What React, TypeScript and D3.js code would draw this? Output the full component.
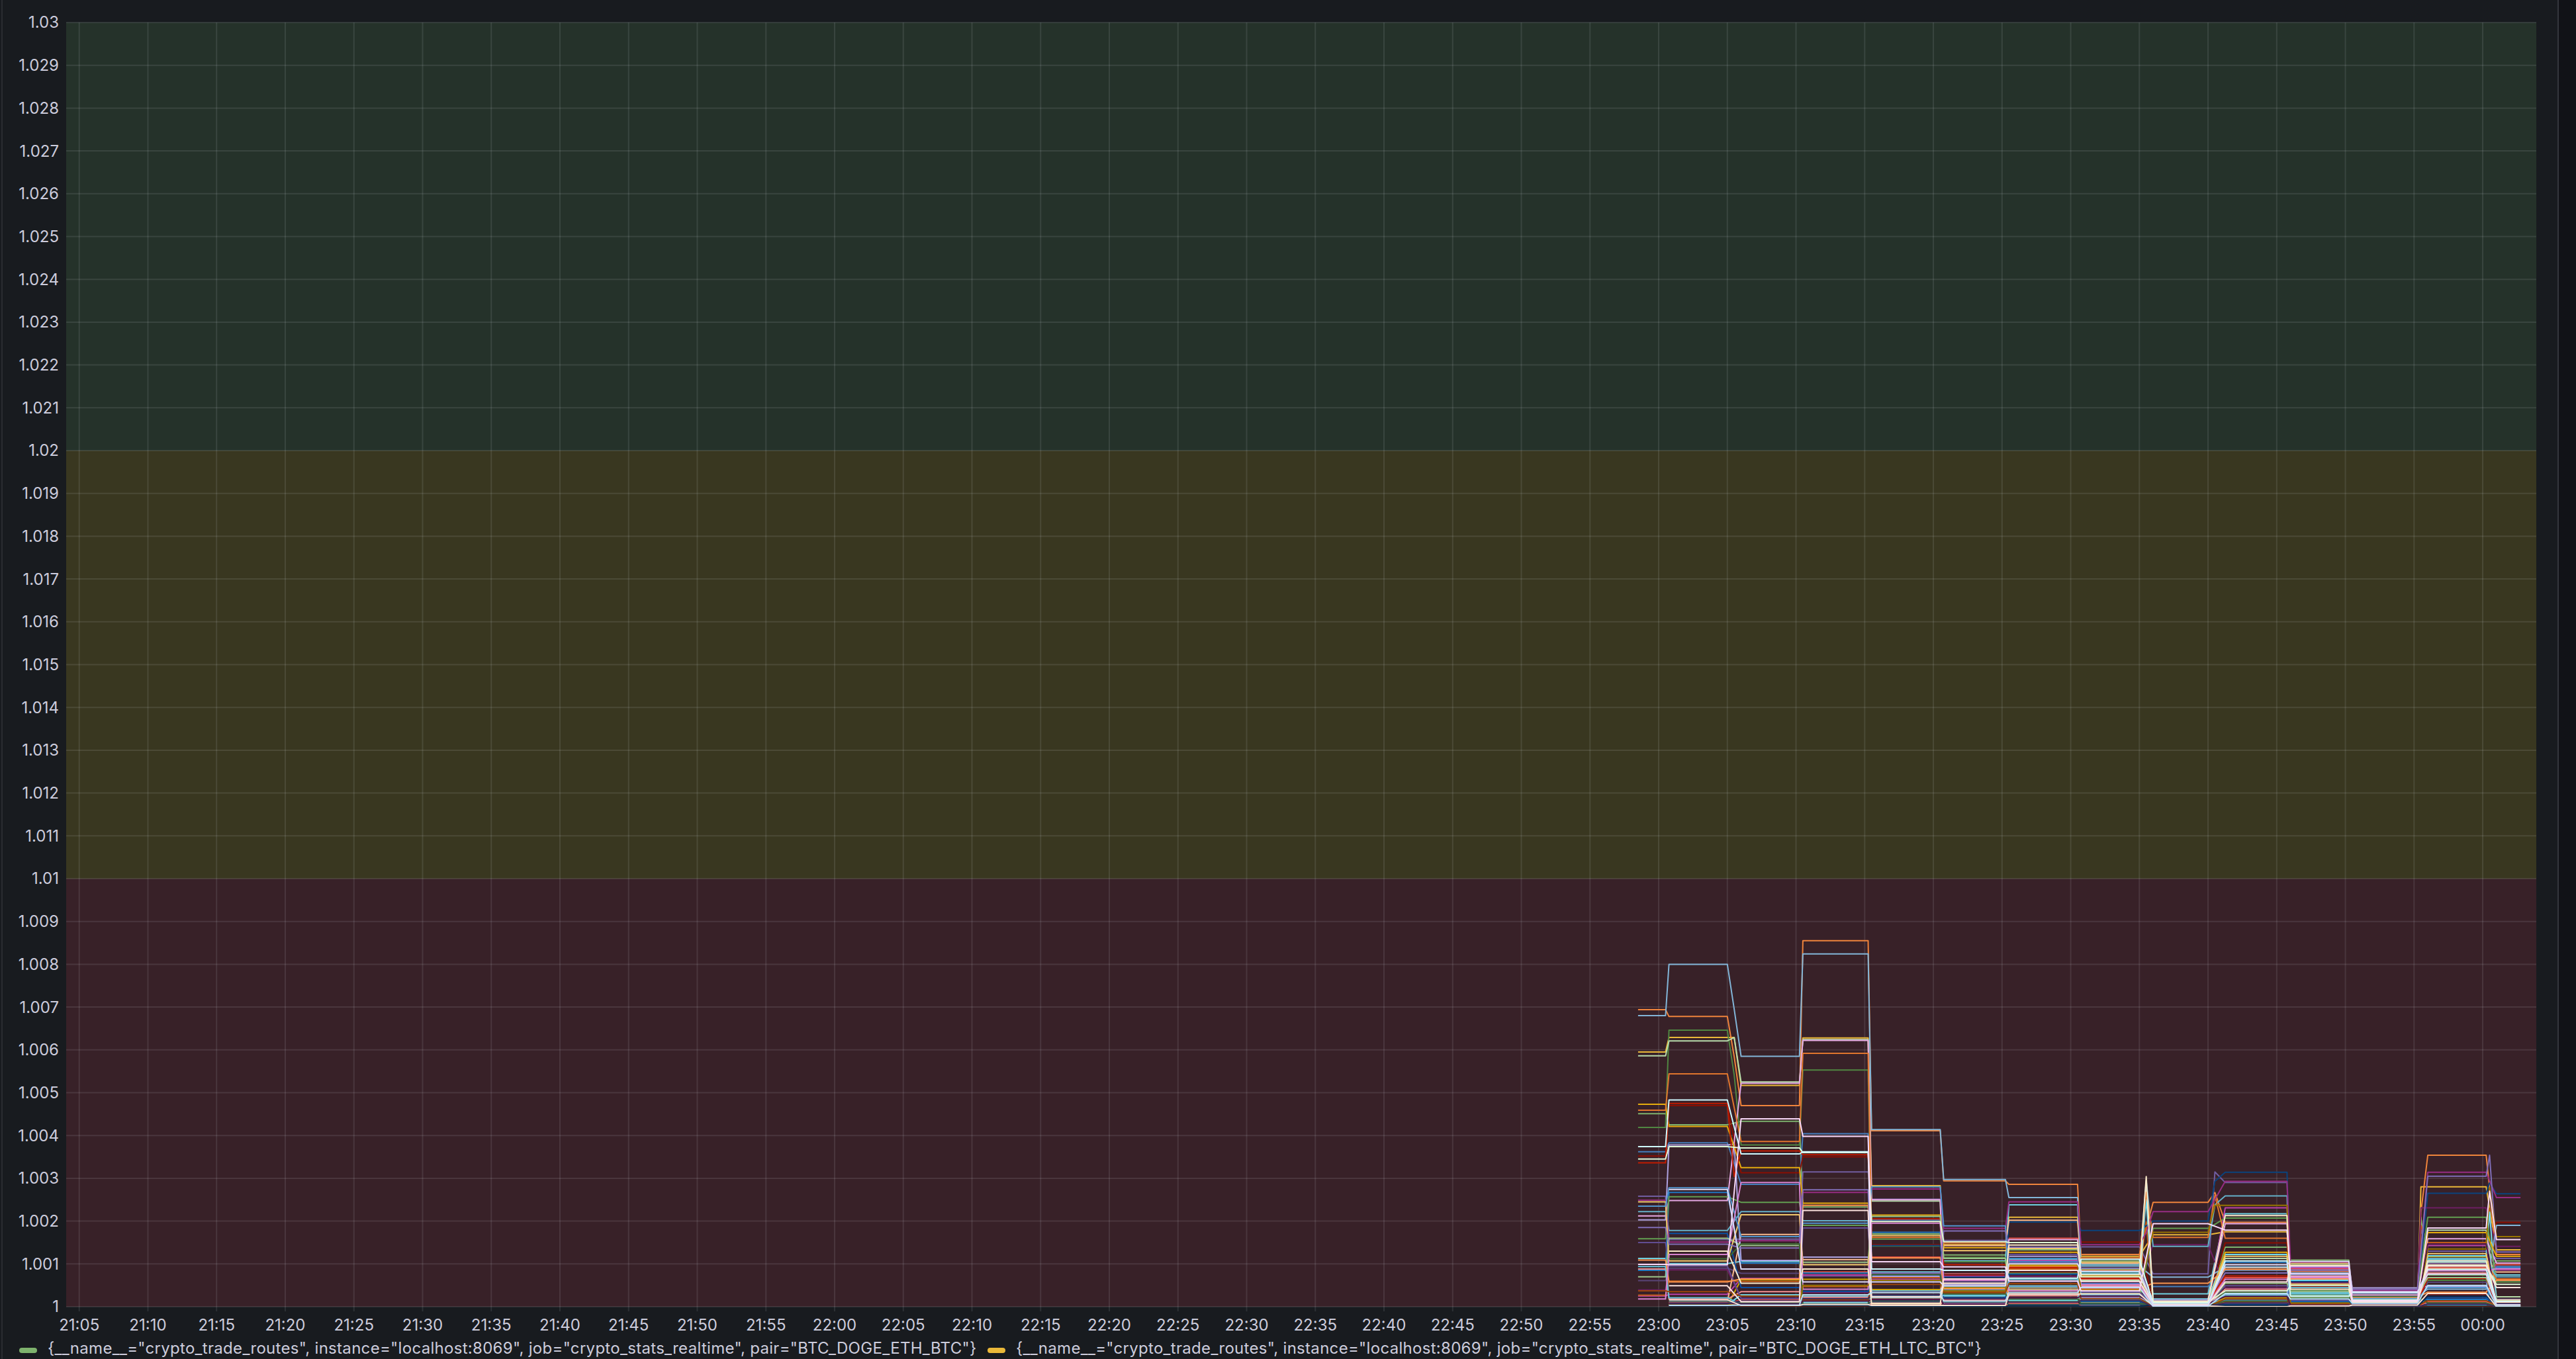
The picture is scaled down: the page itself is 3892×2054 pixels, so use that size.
import * as d3 from "d3";

const W = 3892;
const H = 2054;

// Grafana classic palette, one colour per series
const palette = [
  "#7EB26D", "#EAB839", "#6ED0E0", "#EF843C", "#E24D42", "#1F78C1", "#BA43A9", "#705DA0",
  "#508642", "#CCA300", "#447EBC", "#C15C17", "#890F02", "#0A437C", "#6D1F62", "#584477",
  "#B7DBAB", "#F4D598", "#70DBED", "#F9BA8F", "#F29191", "#82B5D8", "#E5A8E2", "#AEA2E0",
  "#629E51", "#E5AC0E", "#64B0C8", "#E0752D", "#BF1B00", "#0A50A1", "#962D82", "#614D93",
  "#9AC48A", "#F2C96D", "#65C5DB", "#F9934E", "#EA6460", "#5195CE", "#D683CE", "#806EB7",
  "#3F6833", "#967302", "#2F575E", "#99440A", "#58140C", "#052B51", "#511749", "#3F2B5B",
  "#E0F9D7", "#FCEACA", "#CFFAFF", "#F9E2D2", "#FCE2DE", "#BADFF4", "#F9D9F9", "#DEDAF7",
];

const legendNames = [
  '{__name__="crypto_trade_routes", instance="localhost:8069", job="crypto_stats_realtime", pair="BTC_DOGE_ETH_BTC"}',
  '{__name__="crypto_trade_routes", instance="localhost:8069", job="crypto_stats_realtime", pair="BTC_DOGE_ETH_LTC_BTC"}',
];

const xTickLabels = [
  "21:05", "21:10", "21:15", "21:20", "21:25", "21:30", "21:35", "21:40", "21:45", "21:50", "21:55",
  "22:00", "22:05", "22:10", "22:15", "22:20", "22:25", "22:30", "22:35", "22:40", "22:45", "22:50", "22:55",
  "23:00", "23:05", "23:10", "23:15", "23:20", "23:25", "23:30", "23:35", "23:40", "23:45", "23:50", "23:55",
  "00:00",
];
const timeRange = ["21:04:03", "00:03:54"];
const valueRange = [1, 1.03];

// thresholds: base red, yellow from 1.01, green from 1.02
const thresholds = [
  { from: 1.0, to: 1.01, color: "rgba(242,73,92,0.15)" },
  { from: 1.01, to: 1.02, color: "rgba(250,222,42,0.15)" },
  { from: 1.02, to: 1.03, color: "rgba(115,191,105,0.15)" },
];

// each sample window: value held flat from start to end
const blockTimes: [string, string][] = [
  ["22:58:30", "23:00:30"],
  ["23:00:45", "23:05:00"],
  ["23:05:30", "23:05:30"],
  ["23:06:00", "23:10:15"],
  ["23:10:30", "23:15:15"],
  ["23:15:30", "23:20:30"],
  ["23:20:45", "23:25:15"],
  ["23:25:30", "23:30:30"],
  ["23:30:45", "23:35:00"],
  ["23:35:30", "23:35:30"],
  ["23:36:00", "23:40:00"],
  ["23:40:30", "23:40:30"],
  ["23:41:15", "23:45:45"],
  ["23:46:00", "23:50:15"],
  ["23:50:30", "23:55:15"],
  ["23:55:30", "23:55:30"],
  ["23:56:00", "00:00:15"],
  ["00:00:30", "00:00:30"],
  ["00:01:00", "00:02:45"],
];

type V = number | null;

const pre: V[] = [
  1.00451, 1.00595, 1.00113, 1.00694, null, 1.00085, 1.00025, 1.00258,
  1.00419, null, 1.00362, 1.00027, 1.00352, null, 1.00039, 1.00061,
  1.00586, null, null, null, 1.00088, 1.0068, 1.00212, 1.00203,
  1.00159, 1.00473, 1.00222, 1.00459, 1.00336, null, 1.00249, 1.0015,
  1.0007, 1.00245, 1.00094, 1.00109, null, 1.00235, 1.00018, 1.00185,
  null, null, null, 1.00037, null, null, null, null,
  1.00345, null, 1.00374, null, null, null, 1.00099, null,
];
const b2300: V[] = [
  1.00425, 1.00629, 1.00101, 1.00678, 1.00008, 1.00267, 1.00029, 1.00157,
  1.00646, 1.00003, 1.00383, 1.0006, 1.0047, 1.00002, 1.00086, 1.0009,
  1.00621, 1.00005, 1.00004, 1.00011, 1.00018, 1.008, 1.00248, 1.00378,
  1.00257, 1.00421, 1.00178, 1.00544, 1.00475, 1.00171, 1.00151, 1.00095,
  1.0016, 1.00107, 1.00021, 1.00058, 1.00001, 1.00278, 1.00122, 1.00146,
  1.00112, 1.00006, 1.00013, 1.00035, 1.0, 1.00002, 1.00009, 1.00007,
  1.00374, 1.0013, 1.00483, 1.00016, 1.00049, 1.00003, 1.00098, 1.00274,
];
const mid2305: [number, number][] = [
  [21, 1.00695], [3, 1.00584], [8, 1.00541], [1, 1.00629], [16, 1.00629], [28, 1.00304], [23, 1.0038],
];
const b2306: V[] = [
  1.00433, 1.00517, 1.00106, 1.0047, 1.00016, 1.00102, 1.00066, 1.00158,
  1.00378, 1.00063, 1.00286, 1.00059, 1.00313, 1.00001, 1.0002, 1.00078,
  1.00525, 1.00009, 1.00028, 1.00169, 1.00035, 1.00585, 1.00522, 1.00108,
  1.00244, 1.00325, 1.00222, 1.00386, 1.00364, 1.00045, 1.00154, 1.00019,
  1.00143, 1.00215, 1.00005, 1.00065, 1.00002, 1.00164, 1.0029, 1.00137,
  1.00147, 1.00001, 1.00008, 1.00025, 1.0, 1.00003, 1.00006, 1.00014,
  1.00371, 1.00055, 1.00357, 1.00003, 1.00012, 1.00004, 1.00439, 1.00088,
];
const b2310: V[] = [
  1.00233, 1.00628, 1.00011, 1.00855, 1.00081, 1.00079, 1.00074, 1.00315,
  1.00553, 1.00064, 1.00404, 1.00047, 1.0035, 1.00001, 1.00033, 1.00071,
  1.00624, 1.00008, 1.00024, 1.0011, 1.00022, 1.00824, 1.00622, 1.00116,
  1.0019, 1.00242, 1.00201, 1.00592, 1.00355, 1.00036, 1.00267, 1.00184,
  1.00104, 1.00098, 1.0001, 1.00237, 1.00002, 1.00195, 1.00041, 1.00273,
  1.00004, 1.0005, 1.00006, 1.00016, 1.0, 1.00003, 1.00013, 1.00019,
  1.0036, 1.00088, 1.00362, 1.00005, 1.00225, 1.00028, 1.00398, 1.00058,
];
const b2315: V[] = [
  1.0017, 1.00283, 1.00081, 1.00411, 1.00116, 1.00174, 1.00064, 1.00251,
  1.00142, 1.0004, 1.00203, 1.00068, 1.00145, 1.00143, 1.00036, 1.0001,
  1.00247, 1.00008, 1.00024, 1.00021, 1.00004, 1.00414, 1.0025, 1.00071,
  1.00158, 1.00214, 1.00037, 1.00162, 1.00205, 1.00074, 1.00275, 1.00079,
  1.00211, 1.00166, 1.00022, 1.00114, 1.00002, 1.0028, 1.00195, 1.00078,
  1.00075, 1.00062, 1.00013, 1.00052, 1.0, 1.00001, 1.00017, 1.00028,
  1.00199, 1.00007, 1.00088, 1.00003, 1.00023, 1.00033, 1.00105, 1.00058,
];
const b2320: V[] = [
  1.00121, 1.00145, 1.00107, 1.00294, 1.00077, 1.00075, 1.00071, 1.00155,
  1.00105, 1.00044, 1.0004, 1.00036, 1.00074, 1.00069, 1.00018, 1.00009,
  1.00004, 1.00012, 1.00025, 1.00143, 1.00015, 1.00297, 1.00007, 1.00052,
  1.00115, 1.00138, 1.00048, 1.00149, 1.00098, 1.00021, 1.00183, 1.00058,
  1.00113, 1.00131, 1.00027, 1.00042, 1.00002, 1.00189, 1.00062, 1.00177,
  1.0003, 1.00037, 1.00011, 1.00033, 1.0, 1.00001, 1.00006, 1.00019,
  1.00152, 1.00055, 1.00085, 1.00003, 1.00065, 1.00013, 1.00093, 1.00049,
];
const b2325: V[] = [
  1.00133, 1.00209, 1.00238, 1.00286, 1.0016, 1.00113, 1.00108, 1.00103,
  1.00013, 1.00096, 1.00105, 1.00088, 1.0008, 1.00198, 1.00071, 1.00059,
  1.00046, 1.00041, 1.00015, 1.00202, 1.00026, 1.00255, 1.00157, 1.00118,
  1.00078, 1.00127, 1.00111, 1.00094, 1.00091, 1.00076, 1.00245, 1.00122,
  1.00049, 1.00136, 1.00064, 1.00032, 1.00008, 1.00048, 1.00037, 1.00139,
  1.00018, 1.00099, 1.00005, 1.00054, 1.0, 1.00002, 1.00021, 1.00011,
  1.0015, 1.00144, 1.00067, 1.00029, 1.00085, 1.00033, 1.0006, 1.001,
];
const b2330: V[] = [
  1.00107, 1.00118, 1.00081, 1.00122, 1.00064, 1.00054, 1.00044, 1.0014,
  1.00032, 1.00072, 1.00004, 1.00085, 1.00151, 1.00178, 1.00058, 1.00023,
  1.00062, 1.0001, 1.00077, 1.00101, 1.00049, 1.00095, 1.00047, 1.00021,
  1.00014, 1.00027, 1.00098, 1.00114, 1.00067, 1.00012, 1.00145, 1.00034,
  1.00088, 1.00104, 1.00028, 1.00041, 1.00002, 1.00017, 1.00052, 1.0009,
  1.00008, 1.00039, 1.00006, 1.00019, 1.0, 1.00001, 1.00025, 1.00015,
  1.0007, 1.00075, 1.00111, 1.0003, 1.00059, 1.00045, 1.00037, 1.00083,
];
const spike2335: [number, number][] = [
  [49, 1.00304], [26, 1.00295], [17, 1.0029], [27, 1.00267], [11, 1.00198], [30, 1.00173], [18, 1.0025],
];
const b2336: V[] = [
  1.00012, 1.00168, 1.0003, 1.00244, 1.00009, 1.00006, 1.00004, 1.00077,
  1.00003, 1.00002, 1.00047, 1.00008, 1.00011, 1.002, 1.00145, 1.00005,
  1.00014, 1.00001, 1.00018, 1.0001, 1.00003, 1.00069, 1.00016, 1.00007,
  1.00183, 1.00002, 1.00141, 1.00162, 1.00013, 1.00001, 1.00222, 1.00006,
  1.00004, 1.00009, 1.0, 1.00055, 1.0, 1.00002, 1.00005, 1.00015,
  1.00003, 1.00174, 1.0, 1.00001, 1.0, 1.00004, 1.00007, 1.0,
  1.00011, 1.00013, 1.00008, 1.00002, 1.00005, 1.00001, 1.00194, 1.00003,
];
const mid2340: [number, number][] = [
  [7, 1.00315], [13, 1.00293], [3, 1.00267], [27, 1.0026], [26, 1.00238], [41, 1.00237],
];
const b2341: V[] = [
  1.00139, 1.00175, 1.00217, 1.00197, 1.00068, 1.00104, 1.00231, 1.0029,
  1.00033, 1.00021, 1.00085, 1.0001, 1.00149, 1.00314, 1.00044, 1.00007,
  1.00113, 1.00002, 1.00122, 1.00091, 1.00041, 1.00093, 1.00194, 1.00028,
  1.00207, 1.00127, 1.00259, 1.0016, 1.00072, 1.00005, 1.00293, 1.00049,
  1.00055, 1.00118, 1.00027, 1.00087, 1.00003, 1.00015, 1.00064, 1.00079,
  1.00013, 1.00237, 1.00001, 1.00018, 1.0, 1.00004, 1.00024, 1.00009,
  1.00037, 1.00213, 1.00107, 1.0, 1.00058, 1.00031, 1.00179, 1.00098,
];
const b2346: V[] = [
  1.00109, 1.00102, 1.00033, 1.00085, 1.00088, 1.00013, 1.00091, 1.00083,
  1.00038, 1.00005, 1.00075, 1.00003, 1.00047, 1.00059, 1.00056, 1.00008,
  1.00022, 1.00002, 1.00062, 1.00078, 1.00072, 1.00099, 1.0007, 1.00094,
  1.00027, 1.00097, 1.00045, 1.00081, 1.00067, 1.00011, 1.00104, 1.00015,
  1.00036, 1.00053, 1.0003, 1.00065, 1.0, 1.00079, 1.00068, 1.00086,
  1.0002, 1.00009, 1.00001, 1.00006, 1.0, 1.00001, 1.00004, 1.0,
  1.0005, 1.00041, 1.00025, 1.00002, 1.00096, 1.00018, 1.00077, 1.00106,
];
const b2350: V[] = [
  1.00031, 1.00012, 1.0001, 1.00018, 1.00004, 1.00016, 1.00008, 1.00034,
  1.00026, 1.00002, 1.00021, 1.00005, 1.00003, 1.00023, 1.00037, 1.00006,
  1.00029, 1.0, 1.00019, 1.00011, 1.00007, 1.00025, 1.00014, 1.00044,
  1.00032, 1.00015, 1.00013, 1.00017, 1.00009, 1.00006, 1.00039, 1.0003,
  1.00028, 1.00011, 1.0002, 1.00022, 1.0, 1.00018, 1.00027, 1.00041,
  1.00024, 1.00003, 1.00001, 1.00002, 1.0, 1.00001, 1.00005, 1.0,
  1.00016, 1.0001, 1.00033, 1.00004, 1.00012, 1.00008, 1.00014, 1.00035,
];
const mid2355: [number, number][] = [
  [1, 1.0028], [3, 1.0022], [14, 1.00231], [0, 1.00209], [7, 1.0018], [11, 1.0019],
];
const b2356: V[] = [
  1.00074, 1.0028, 1.0011, 1.00354, 1.00092, 1.00017, 1.00143, 1.0013,
  1.00062, 1.00117, 1.00004, 1.0015, 1.00027, 1.00265, 1.00231, 1.00057,
  1.00179, 1.00103, 1.00119, 1.00089, 1.00079, 1.00041, 1.00159, 1.00048,
  1.00209, 1.00173, 1.00113, 1.00099, 1.00066, 1.00021, 1.00314, 1.00101,
  1.00068, 1.00124, 1.00105, 1.00034, 1.00012, 1.00045, 1.00084, 1.00305,
  1.00009, 1.00135, 1.00002, 1.00014, 1.0, 1.00025, 1.00147, 1.00006,
  1.00097, 1.00107, 1.00087, 1.00031, 1.00095, 1.0005, 1.00184, 1.00076,
];
const spike0000: [number, number][] = [
  [39, 1.00354], [41, 1.00278], [54, 1.0027], [11, 1.0023], [18, 1.00221], [13, 1.0029],
];
const b0001: V[] = [
  1.00107, 1.00133, 1.00074, 1.00122, 1.00098, 1.00091, 1.00086, 1.00113,
  1.00005, 1.00002, 1.00094, 1.00008, 1.00197, 1.00264, 1.00141, 1.00001,
  1.00023, 1.0, 1.00012, 1.00081, 1.00003, 1.0019, 1.00102, 1.00017,
  1.00058, 1.00118, 1.0007, 1.00065, 1.00004, 1.0, 1.00255, 1.00006,
  1.0001, 1.00015, 1.00002, 1.00062, 1.0, 1.00003, 1.00089, 1.00128,
  1.00001, 1.00164, 1.0, 1.00004, 1.0, 1.00007, 1.00009, 1.0,
  1.00052, 1.00011, 1.00013, 1.0, 1.00045, 1.00002, 1.00157, 1.00005,
];

function sparse(pairs: [number, number][]): V[] {
  const out: V[] = palette.map(() => null);
  pairs.forEach(([i, v]) => { out[i] = v; });
  return out;
}

const blockValues: V[][] = [
  pre, b2300, sparse(mid2305), b2306, b2310, b2315, b2320, b2325, b2330,
  sparse(spike2335), b2336, sparse(mid2340), b2341, b2346, b2350, sparse(mid2355),
  b2356, sparse(spike0000), b0001,
];

function parseT(s: string): Date {
  const [h, m, sec] = s.split(":").map(Number);
  return new Date(2024, 0, h < 12 ? 2 : 1, h, m, sec || 0);
}

export default function App() {
  const margin = { left: 100, right: 3832, top: 34, bottom: 1975 };
  const x = d3.scaleTime().domain(timeRange.map(parseT)).range([margin.left, margin.right]);
  const y = d3.scaleLinear().domain(valueRange).range([margin.bottom, margin.top]);
  const yTicks = y.ticks(30);
  const fmtY = d3.format(".4~f");

  const line = d3.line<[Date, number]>().x(d => x(d[0])).y(d => y(d[1]));

  const series = palette.map((color, i) => {
    const pts: [Date, number][] = [];
    blockValues.forEach((vals, b) => {
      const v = vals[i];
      if (v == null) return;
      const [t0, t1] = blockTimes[b];
      pts.push([parseT(t0), v]);
      if (t1 !== t0) pts.push([parseT(t1), v]);
    });
    return { color, d: line(pts) || "" };
  });

  const text = "#ccccdc";
  const grid = "rgba(240,250,255,0.1)";

  return (
    <svg width={W} height={H} style={{ position: "absolute", left: 0, top: 0, display: "block" }}
      fontFamily="Inter, 'Noto Sans', sans-serif">
      <rect x={0} y={0} width={W} height={H} fill="#111217" />
      <rect x={0} y={0} width={3865} height={H} fill="#181b1f" />
      <line x1={3865} x2={3865} y1={0} y2={H} stroke="#34363c" strokeWidth={2} />
      <line x1={3} x2={3} y1={0} y2={H} stroke="#2a2c31" strokeWidth={2} />

      <defs>
        <clipPath id="plot">
          <rect x={margin.left} y={margin.top} width={margin.right - margin.left} height={margin.bottom - margin.top} />
        </clipPath>
      </defs>

      {thresholds.map(t => (
        <rect key={t.from} x={margin.left} width={margin.right - margin.left}
          y={y(t.to)} height={y(t.from) - y(t.to)} fill={t.color} />
      ))}

      {yTicks.map(t => (
        <g key={t}>
          <line x1={margin.left} x2={margin.right} y1={y(t)} y2={y(t)} stroke={grid} strokeWidth={2} />
          <text x={89} y={y(t)} dy="0.35em" textAnchor="end" fontSize={24} fill={text}>{fmtY(t)}</text>
        </g>
      ))}

      {xTickLabels.map(l => {
        const xx = x(parseT(l));
        return (
          <g key={l}>
            <line x1={xx} x2={xx} y1={margin.top} y2={margin.bottom + 7} stroke={grid} strokeWidth={2} />
            <text x={xx} y={2011} textAnchor="middle" fontSize={24} fill={text}>{l}</text>
          </g>
        );
      })}

      <g clipPath="url(#plot)" fill="none" strokeWidth={2} strokeLinejoin="round">
        {series.map((s, i) => <path key={i} d={s.d} stroke={s.color} />)}
      </g>

      {legendNames.map((name, i) => {
        const x0 = [29, 1492][i];
        return (
          <g key={name}>
            <rect x={x0} y={2037} width={27} height={8} rx={4} fill={palette[i]} />
            <text x={x0 + 43} y={2046} fontSize={24} letterSpacing={0.3} fill={text}>{name}</text>
          </g>
        );
      })}
    </svg>
  );
}
